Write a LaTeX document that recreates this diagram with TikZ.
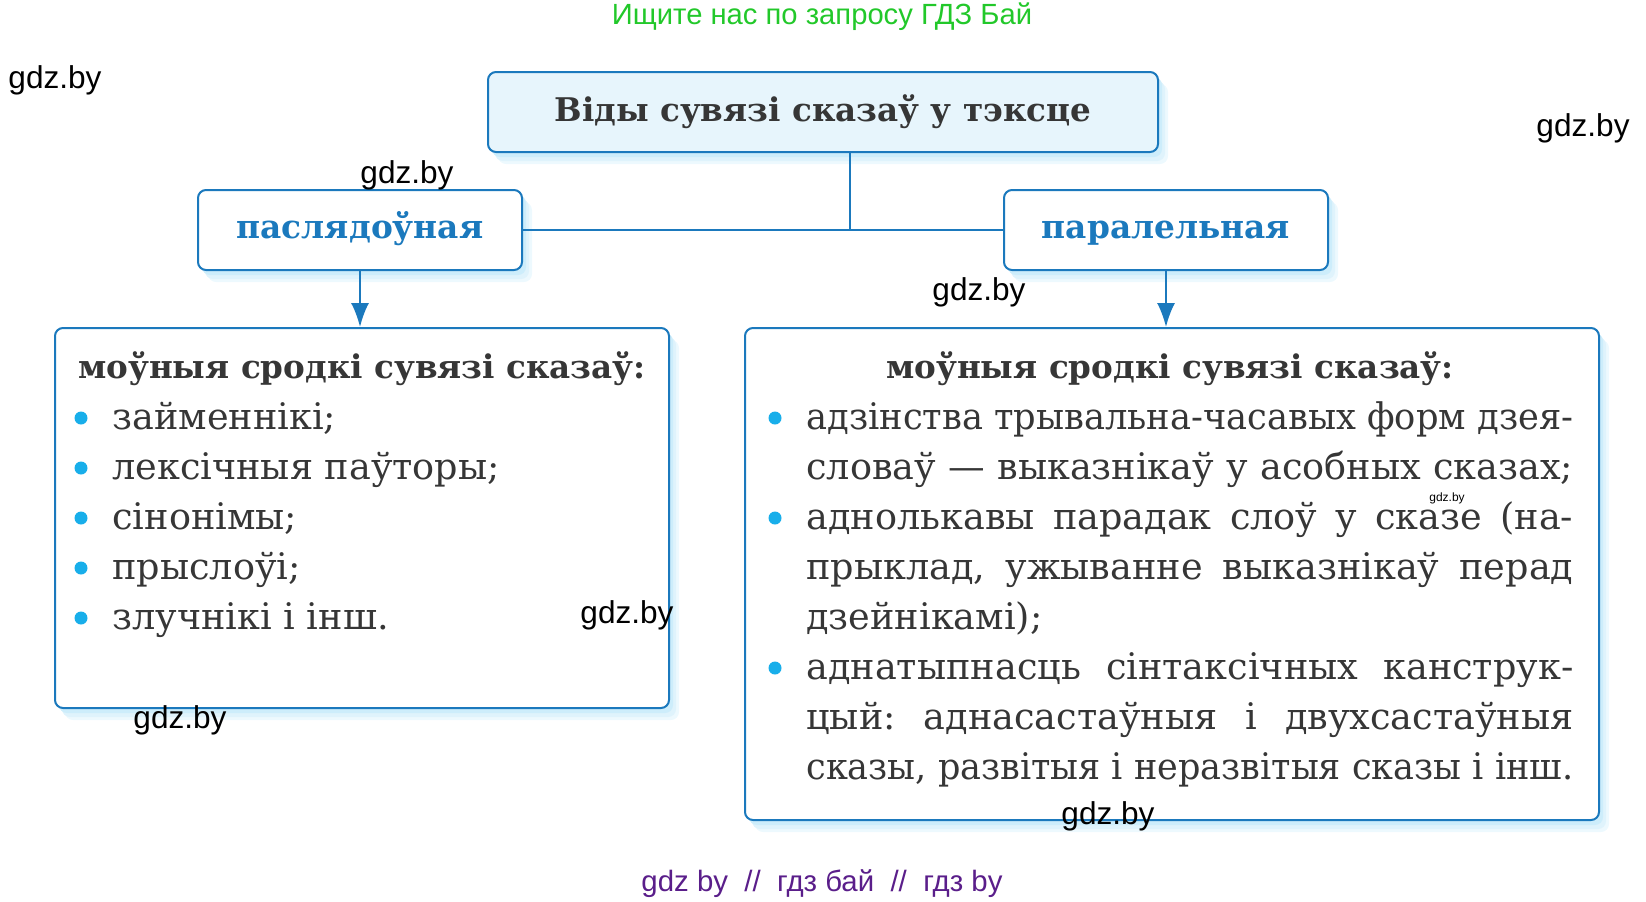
\documentclass[tikz,border=0pt]{standalone}
\usepackage{fontspec}
\setmainfont{DejaVu Serif}
\newfontfamily\wmfont{Liberation Sans}
\usepackage{tikz}
\usetikzlibrary{arrows.meta,positioning,shadows}
\definecolor{boxblue}{HTML}{1B79BD}
\definecolor{boxfill}{HTML}{E7F5FC}
\definecolor{headgray}{HTML}{363636}
\definecolor{dotblue}{HTML}{18AEEA}
\definecolor{glow}{HTML}{CDEDFB}
\definecolor{wmgreen}{HTML}{22C82A}
\definecolor{wmpurple}{HTML}{5A1E8A}
\frenchspacing

% one justified line of the right list: spaces stretch, or the line is condensed
\newlength\linew
\setlength\linew{383.5pt}
\newcommand\fitline[1]{%
  \setbox0=\hbox{#1}%
  \ifdim\wd0>\linew
    \resizebox{\linew}{\height}{\box0}%
  \else
    \hbox to \linew{\unhbox0}%
  \fi}

\begin{document}
\begin{tikzpicture}
[x=0.5pt, y=-0.5pt, >={Latex[length=12pt,width=9pt]},
box/.style={draw=boxblue, line width=1pt, rounded corners=4pt, fill=white,
  drop shadow={shadow xshift=5pt, shadow yshift=-6pt, fill=glow!35, opacity=1},
  drop shadow={shadow xshift=3.5pt, shadow yshift=-4.5pt, fill=glow!65, opacity=1},
  drop shadow={shadow xshift=2pt, shadow yshift=-2.5pt, fill=glow, opacity=1}},
link/.style={draw=boxblue, line width=1pt},
head/.style={font=\fontsize{16.3}{20}\selectfont\bfseries, text=headgray, inner sep=0pt},
kind/.style={font=\fontsize{16.4}{20}\selectfont\bfseries, text=boxblue, inner sep=0pt},
item/.style={font=\fontsize{18.3}{25}\selectfont, text=headgray, inner sep=0pt, anchor=base west},
dot/.style={circle, fill=dotblue, minimum size=6.5pt, inner sep=0pt},
wm/.style={font=\wmfont\fontsize{15.8}{18}\selectfont, inner sep=0pt}
]
  \useasboundingbox (0,0) rectangle (1646,901);

  % boxes
  \node[box, fill=boxfill, minimum width=335pt, minimum height=40pt] (top) at (823,112) {};
  \node[box, minimum width=162pt, minimum height=40pt] (seq) at (360,230) {};
  \node[box, minimum width=162pt, minimum height=40pt] (par) at (1166,230) {};
  \node[box, minimum width=307pt, minimum height=190pt] (seqbox) at (362,518) {};
  \node[box, minimum width=427pt, minimum height=246pt] (parbox) at (1172,574) {};

  % headings
  \node[head, anchor=base] (toptext) at (823,121) {Віды сувязі сказаў у тэксце};
  \node[kind, anchor=base] (seqtext) at (360,238) {паслядоўная};
  \node[kind, anchor=base] (partext) at (1166,238) {паралельная};

  % connectors
  \coordinate (j) at (850,230);
  \draw[link] (top.south -| j) -- (j);
  \draw[link] (seq.east) -- (par.west);
  \draw[link, ->] (seq.south) -- (seq.south |- seqbox.north);
  \draw[link, ->] (par.south) -- (par.south |- parbox.north);

  % left list
  \node[head, anchor=base] (seqtitle) at (362,378) {моўныя сродкі сувязі сказаў:};
  \node[item] (s1) at (112,429) {займеннікі;};
  \node[item] (s2) at (112,479) {лексічныя паўторы;};
  \node[item] (s3) at (112,529) {сінонімы;};
  \node[item] (s4) at (112,579) {прыслоўі;};
  \node[item] (s5) at (112,629) {злучнікі і інш.};
  \foreach \y in {418,468,518,568,618}
    \node[dot] at (81,\y) {};

  % right list
  \node[head, anchor=base] (partitle) at (1170,378) {моўныя сродкі сувязі сказаў:};
  \node[item] (p1) at (806,429) {\fitline{адзінства трывальна-часавых форм дзея-}};
  \node[item] (p2) at (806,479) {\fitline{словаў — выказнікаў у асобных сказах;}};
  \node[item] (p3) at (806,529) {\fitline{аднолькавы парадак слоў у сказе (на-}};
  \node[item] (p4) at (806,579) {\fitline{прыклад, ужыванне выказнікаў перад}};
  \node[item] (p5) at (806,629) {дзейнікамі);};
  \node[item] (p6) at (806,679) {\fitline{аднатыпнасць сінтаксічных канструк-}};
  \node[item] (p7) at (806,729) {\fitline{цый: аднасастаўныя і двухсастаўныя}};
  \node[item] (p8) at (806,779) {\fitline{сказы, развітыя і неразвітыя сказы і інш.}};
  \foreach \y in {418,518,668}
    \node[dot] at (775,\y) {};

  % watermarks
  \node[wm, text=wmgreen, font=\wmfont\fontsize{14.6}{16}\selectfont] (wmtop) at (822,17) {Ищите нас по запросу ГДЗ Бай};
  \node[wm] (w1) at (55,80) {gdz.by};
  \node[wm] (w2) at (1583,128) {gdz.by};
  \node[wm] (w3) at (407,175) {gdz.by};
  \node[wm] (w4) at (979,292) {gdz.by};
  \node[wm] (w5) at (627,615) {gdz.by};
  \node[wm] (w6) at (180,720) {gdz.by};
  \node[wm] (w7) at (1108,816) {gdz.by};
  \node[wm, font=\wmfont\fontsize{6}{7}\selectfont] (w8) at (1447,498) {gdz.by};
  \node[wm, text=wmpurple, font=\wmfont\fontsize{14.7}{16}\selectfont] (wmbot) at (822,884) {gdz by \ // \ гдз бай \ // \ гдз by};
\end{tikzpicture}
\end{document}
